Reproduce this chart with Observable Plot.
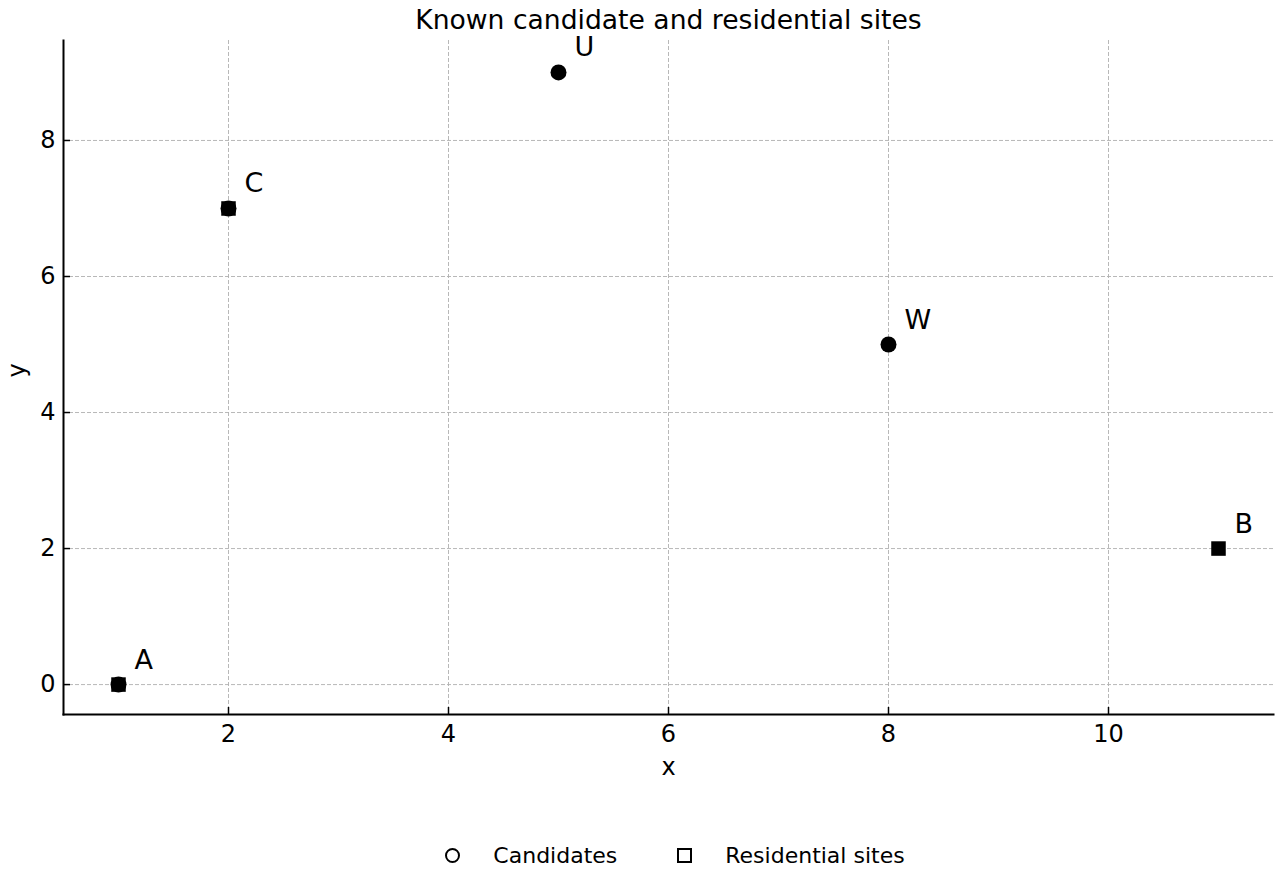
<!DOCTYPE html>
<html>
<head>
<meta charset="utf-8">
<script src="https://cdn.jsdelivr.net/npm/d3@7"></script>
<script src="https://cdn.jsdelivr.net/npm/@observablehq/plot@0.6"></script>
<style>
  html, body { margin: 0; padding: 0; background: #fff; }
  body { width: 1280px; height: 880px; overflow: hidden; font-family: "DejaVu Sans", sans-serif; }
  #legend { height: 80px; display: flex; align-items: center; justify-content: center; padding-left: 70px; padding-top: 30px; box-sizing: border-box; font-size: 22px; color: #000; }
  .item { display: flex; align-items: center; }
  .mk { width: 11px; height: 11px; border: 2px solid #000; box-sizing: content-box; }
  .circ { border-radius: 50%; }
  .lab { margin-left: 33px; }
  .gap { width: 60px; }
</style>
</head>
<body>
<div id="chart"></div>
<div id="legend">
  <div class="item"><div class="mk circ"></div><span class="lab">Candidates</span></div>
  <div class="gap"></div>
  <div class="item"><div class="mk"></div><span class="lab">Residential sites</span></div>
</div>
<script>
// Data
const candNames = ["A", "C", "U", "W"];
const candX = [1, 2, 5, 8];
const candY = [0, 7, 9, 5];
const resNames = ["A", "B", "C"];
const resX = [1, 11, 2];
const resY = [0, 2, 7];
const labelNames = ["A", "B", "C", "U", "W"];
const labelX = [1, 11, 2, 5, 8];
const labelY = [0, 2, 7, 9, 5];
const xTicks = [2, 4, 6, 8, 10];
const yTicks = [0, 2, 4, 6, 8];
const xDomain = [0.5, 11.5];
const yDomain = [-0.44, 9.47];

const cands = candNames.map((n, i) => ({name: n, x: candX[i], y: candY[i]}));
const res = resNames.map((n, i) => ({name: n, x: resX[i], y: resY[i]}));
const labels = labelNames.map((n, i) => ({name: n, x: labelX[i], y: labelY[i]}));

const plot = Plot.plot({
  width: 1280,
  height: 800,
  marginTop: 40,
  marginLeft: 63,
  marginRight: 7,
  marginBottom: 86,
  style: {fontFamily: "DejaVu Sans, sans-serif", fontSize: "22px", color: "#000", background: "#fff", overflow: "visible"},
  x: {domain: xDomain, ticks: xTicks},
  y: {domain: yDomain, ticks: yTicks},
  marks: [
    Plot.gridX(xTicks, {stroke: "#b0b0b0", strokeOpacity: 1, strokeWidth: 0.9, strokeDasharray: "4,2"}),
    Plot.gridY(yTicks, {stroke: "#b0b0b0", strokeOpacity: 1, strokeWidth: 0.9, strokeDasharray: "4,2"}),
    Plot.axisX(xTicks, {tickSize: -7, tickPadding: 17, label: null, fontSize: 24, tickFormat: d3.format("d"), strokeWidth: 1.5}),
    Plot.axisY(yTicks, {tickSize: -7, tickPadding: 15, label: null, fontSize: 24, tickFormat: d3.format("d"), strokeWidth: 1.5}),
    Plot.frame({anchor: "left", stroke: "#000", strokeWidth: 2}),
    Plot.frame({anchor: "bottom", stroke: "#000", strokeWidth: 2}),
    Plot.dot(cands, {x: "x", y: "y", r: 8, fill: "#000", stroke: "none", symbol: "circle"}),
    Plot.dot(res, {x: "x", y: "y", r: 8.2, fill: "#000", stroke: "none", symbol: "square"}),
    Plot.text(labels, {x: "x", y: "y", text: "name", dx: 16, dy: -16, textAnchor: "start", lineAnchor: "bottom", fontSize: 27, fill: "#000"}),
    Plot.text(["Known candidate and residential sites"], {frameAnchor: "top", dy: -12, lineAnchor: "bottom", fontSize: 26.6, fill: "#000"}),
    Plot.text(["x"], {frameAnchor: "bottom", dy: 53, lineAnchor: "middle", fontSize: 24, fill: "#000"}),
    Plot.text(["y"], {frameAnchor: "left", dx: -46, rotate: -90, lineAnchor: "middle", fontSize: 24, fill: "#000"})
  ]
});
document.getElementById("chart").appendChild(plot);
</script>
</body>
</html>
